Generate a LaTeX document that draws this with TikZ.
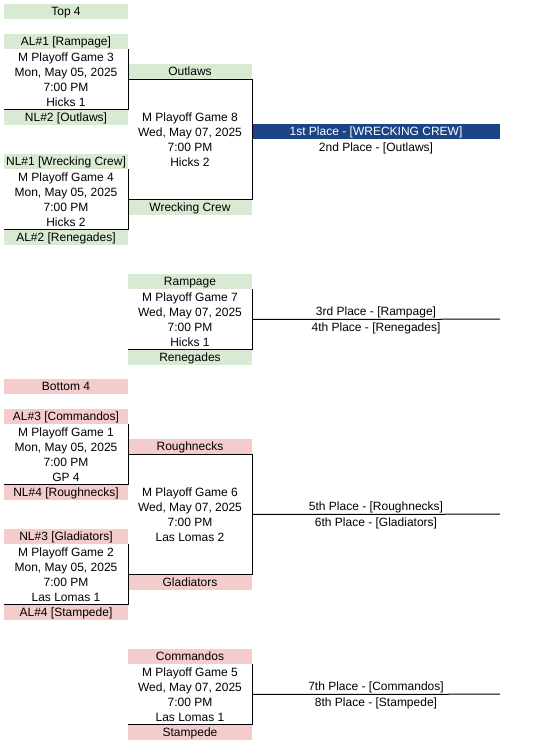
\documentclass[tikz,border=0pt]{standalone}
\usepackage{fontspec}
\setmainfont{Liberation Sans}
\usepackage{xcolor}
\usepackage{tikz}
\usetikzlibrary{positioning}
\definecolor{topgreen}{HTML}{D9EAD3}
\definecolor{botred}{HTML}{F4CCCC}
\definecolor{champblue}{HTML}{1C4587}

\begin{document}
\begin{tikzpicture}[x=1pt,y=-1pt,font=\fontsize{12}{15}\selectfont,cell/.style={inner sep=0pt,minimum width=124pt,minimum height=15pt,text height=8.6pt,text depth=0pt},topcell/.style={cell,fill=topgreen},botcell/.style={cell,fill=botred},game/.style={align=center,inner sep=0pt,minimum width=124pt,minimum height=60pt},bigame/.style={game,minimum height=120pt},place/.style={cell,minimum width=248pt},champ/.style={place,fill=champblue,text=white},wire/.style={line width=1pt}]
\useasboundingbox (0,0) rectangle (556,741);
% top 4
\node[topcell] (top4) at (66,11.5) {Top 4};
\node[topcell] (al1) at (66,41.5) {AL\#1 [Rampage]};
\node[game,below=0pt of al1] (g3) {M Playoff Game 3\\Mon, May 05, 2025\\7:00 PM\\Hicks 1};
\node[topcell,below=0pt of g3] (nl2) {NL\#2 [Outlaws]};
\node[topcell] (nl1) at (66,161.5) {NL\#1 [Wrecking Crew]};
\node[game,below=0pt of nl1] (g4) {M Playoff Game 4\\Mon, May 05, 2025\\7:00 PM\\Hicks 2};
\node[topcell,below=0pt of g4] (al2) {AL\#2 [Renegades]};
\node[topcell] (outlaws) at (190,71.5) {Outlaws};
\node[bigame,below=0pt of outlaws] (g8) {M Playoff Game 8\\Wed, May 07, 2025\\7:00 PM\\Hicks 2};
\node[topcell,below=0pt of g8] (wcrew) {Wrecking Crew};
\node[champ] (first) at (376,131.5) {1st Place - [WRECKING CREW]};
\node[place,below=0pt of first] (second) {2nd Place - [Outlaws]};
\node[topcell] (rampage) at (190,281.5) {Rampage};
\node[game,below=0pt of rampage] (g7) {M Playoff Game 7\\Wed, May 07, 2025\\7:00 PM\\Hicks 1};
\node[topcell,below=0pt of g7] (renegades) {Renegades};
\node[place] (third) at (376,311.5) {3rd Place - [Rampage]};
\node[place,below=0pt of third] (fourth) {4th Place - [Renegades]};
% bottom 4
\node[botcell] (bot4) at (66,386.5) {Bottom 4};
\node[botcell] (al3) at (66,416.5) {AL\#3 [Commandos]};
\node[game,below=0pt of al3] (g1) {M Playoff Game 1\\Mon, May 05, 2025\\7:00 PM\\GP 4};
\node[botcell,below=0pt of g1] (nl4) {NL\#4 [Roughnecks]};
\node[botcell] (nl3) at (66,536.5) {NL\#3 [Gladiators]};
\node[game,below=0pt of nl3] (g2) {M Playoff Game 2\\Mon, May 05, 2025\\7:00 PM\\Las Lomas 1};
\node[botcell,below=0pt of g2] (al4) {AL\#4 [Stampede]};
\node[botcell] (roughnecks) at (190,446.5) {Roughnecks};
\node[bigame,below=0pt of roughnecks] (g6) {M Playoff Game 6\\Wed, May 07, 2025\\7:00 PM\\Las Lomas 2};
\node[botcell,below=0pt of g6] (gladiators) {Gladiators};
\node[place] (fifth) at (376,506.5) {5th Place - [Roughnecks]};
\node[place,below=0pt of fifth] (sixth) {6th Place - [Gladiators]};
\node[botcell] (commandos) at (190,656.5) {Commandos};
\node[game,below=0pt of commandos] (g5) {M Playoff Game 5\\Wed, May 07, 2025\\7:00 PM\\Las Lomas 1};
\node[botcell,below=0pt of g5] (stampede) {Stampede};
\node[place] (seventh) at (376,686.5) {7th Place - [Commandos]};
\node[place,below=0pt of seventh] (eighth) {8th Place - [Stampede]};
% bracket lines
\draw[wire] (g3.north east)--(g3.south east)--(g3.south west);
\draw[wire] (g4.north east)--(g4.south east)--(g4.south west);
\draw[wire] (g8.north west)--(g8.north east)--(g8.south east)--(g8.south west);
\draw[wire] (g7.north east)--(g7.south east)--(g7.south west);
\draw[wire] (g7.east)--(third.south east);
\draw[wire] (g1.north east)--(g1.south east)--(g1.south west);
\draw[wire] (g2.north east)--(g2.south east)--(g2.south west);
\draw[wire] (g6.north west)--(g6.north east)--(g6.south east)--(g6.south west);
\draw[wire] (g6.east)--(fifth.south east);
\draw[wire] (g5.north east)--(g5.south east)--(g5.south west);
\draw[wire] (g5.east)--(seventh.south east);
\end{tikzpicture}
\end{document}
